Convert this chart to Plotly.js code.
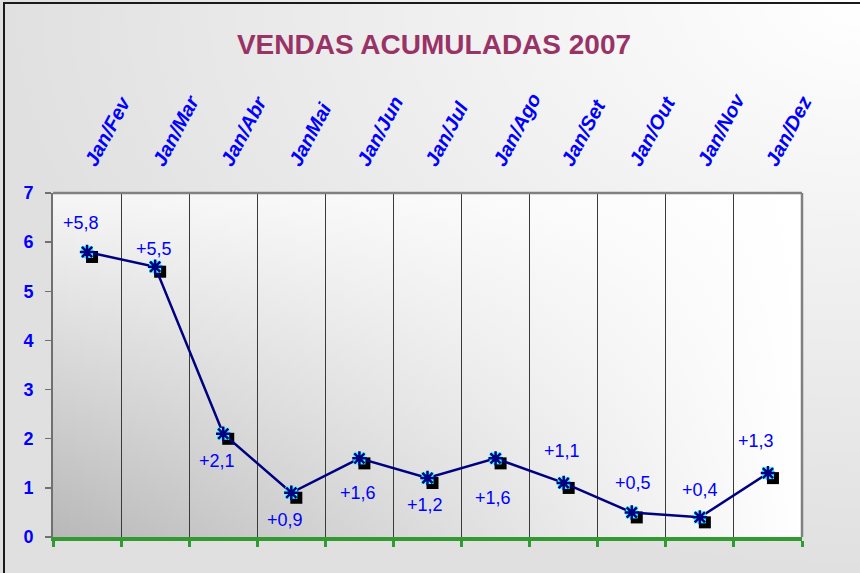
<!DOCTYPE html>
<html>
<head>
<meta charset="utf-8">
<script src="https://cdn.plot.ly/plotly-3.0.1.min.js"></script>
<style>html,body{margin:0;padding:0;background:#e0e0e0;}#chart{width:860px;height:573px;}</style>
</head>
<body>
<div id="chart"></div>
<script>
// ---- data ----
const categories = ['Jan/Fev', 'Jan/Mar', 'Jan/Abr', 'JanMai', 'Jan/Jun', 'Jan/Jul', 'Jan/Ago', 'Jan/Set', 'Jan/Out', 'Jan/Nov', 'Jan/Dez'];
const values = [5.8, 5.5, 2.1, 0.9, 1.6, 1.2, 1.6, 1.1, 0.5, 0.4, 1.3];
const valueLabels = values.map(v => '+' + v.toFixed(1).replace('.', ','));
const yTickValues = [0, 1, 2, 3, 4, 5, 6, 7];
const chartTitle = 'VENDAS ACUMULADAS 2007';

// ---- label placement (style only, pixels) ----
const labelShiftX = [-6, -1, -6, -6, -1, -3, -3, -2, 1, 0, -12];
const labelShiftY = [29, 18, -27, -27, -35, -27, -40, 32, 29, 27, 32];

// ---- geometry ----
const W = 860, H = 573;
const mL = 53, mR = 53, mT = 193, mB = 31;
const pw = W - mL - mR, ph = H - mT - mB;
const s = 5; // shadow offset px
const mainX = [0, (pw - s) / pw];
const mainY = [s / ph, 1];
const shX = [s / pw, 1];
const shY = [0, (ph - s) / ph];
const xRange = [-0.5, categories.length - 0.5];
const yRange = [0, 7];

function svgUri(svg) { return 'data:image/svg+xml;charset=utf-8,' + encodeURIComponent(svg); }
const paperSvg = "<svg xmlns='http://www.w3.org/2000/svg' width='100' height='100' viewBox='0 0 100 100' preserveAspectRatio='none'>" +
  "<defs><radialGradient id='r' cx='1' cy='0' r='1' gradientUnits='objectBoundingBox'>" +
  "<stop offset='0' stop-color='#ffffff' stop-opacity='1'/><stop offset='1' stop-color='#ffffff' stop-opacity='0'/></radialGradient></defs>" +
  "<rect width='100' height='100' fill='#e0e0e0'/><rect width='100' height='100' fill='url(#r)'/></svg>";
const plotSvg = "<svg xmlns='http://www.w3.org/2000/svg' width='100' height='100' viewBox='0 0 100 100' preserveAspectRatio='none'>" +
  "<defs><linearGradient id='v' x1='0' y1='1' x2='0' y2='0'><stop offset='0' stop-color='#b8b8b8'/><stop offset='1' stop-color='#f6f6f6'/></linearGradient>" +
  "<linearGradient id='h' x1='0' y1='0' x2='1' y2='0'><stop offset='0' stop-color='#ffffff' stop-opacity='0'/><stop offset='1' stop-color='#ffffff' stop-opacity='1'/></linearGradient></defs>" +
  "<rect width='100' height='100' fill='url(#v)'/><rect width='100' height='100' fill='url(#h)'/></svg>";

const traces = [
  { // hidden helper so bottom axis is drawn
    x: categories, y: values, xaxis: 'x2', yaxis: 'y', mode: 'none', hoverinfo: 'skip', showlegend: false
  },
  { // marker shadow (own subplot, offset down-right, drawn first)
    x: categories, y: values, xaxis: 'x3', yaxis: 'y3', mode: 'markers', hoverinfo: 'skip', showlegend: false,
    marker: { symbol: 'square', size: 12, color: '#000000', line: { width: 0 } }
  },
  { // line + cyan squares (drawn above the shadow)
    x: categories, y: values, xaxis: 'x4', yaxis: 'y4', mode: 'lines+markers', showlegend: false,
    line: { color: '#000080', width: 2.5 },
    marker: { symbol: 'square', size: 12, color: '#33ffff', line: { width: 0 } }
  },
  { // asterisk glyphs
    x: categories, y: values, xaxis: 'x4', yaxis: 'y4', mode: 'markers', showlegend: false, hoverinfo: 'skip',
    marker: { symbol: 'asterisk-open', size: 12, color: '#000080', line: { color: '#000080', width: 2.5 } }
  }
];

const annotations = categories.map((c, i) => ({
  x: c, y: values[i], xref: 'x', yref: 'y', text: valueLabels[i], showarrow: false,
  xshift: labelShiftX[i], yshift: labelShiftY[i],
  font: { family: 'Arial, Liberation Sans, sans-serif', size: 18, color: '#0000ff' }
}));

const catAxisBase = { type: 'category', categoryorder: 'array', categoryarray: categories, range: xRange };

const layout = {
  width: W, height: H,
  margin: { l: mL, r: mR, t: mT, b: mB, pad: 0 },
  paper_bgcolor: '#e0e0e0',
  plot_bgcolor: 'rgba(0,0,0,0)',
  showlegend: false,
  title: {
    text: chartTitle, xref: 'container', yref: 'container', x: 434 / W, y: 1 - 44 / H,
    xanchor: 'center', yanchor: 'middle',
    font: { family: 'Arial, Liberation Sans, sans-serif', size: 28, weight: 'bold', color: '#993366' }
  },
  xaxis: Object.assign({}, catAxisBase, {
    domain: mainX, anchor: 'y', side: 'top',
    tickson: 'boundaries', ticks: '', showline: false, zeroline: false,
    showgrid: true, gridcolor: '#3a3a3a', gridwidth: 1,
    tickangle: -62, ticklabelstandoff: 15,
    tickfont: { family: 'Arial, Liberation Sans, sans-serif', size: 20, weight: 'bold', style: 'italic', color: '#0000ff' }
  }),
  xaxis2: Object.assign({}, catAxisBase, {
    overlaying: 'x', anchor: 'y', side: 'bottom',
    tickson: 'boundaries', ticks: 'outside', ticklen: 6, tickwidth: 3, tickcolor: '#339933',
    showline: true, linecolor: '#339933', linewidth: 4, showgrid: false, zeroline: false, showticklabels: false
  }),
  yaxis: {
    range: yRange, domain: mainY, anchor: 'x', tickvals: yTickValues,
    ticks: 'outside', ticklen: 6, tickwidth: 1.5, tickcolor: '#707070',
    showline: true, linecolor: '#707070', linewidth: 2, showgrid: false, zeroline: false,
    ticklabelstandoff: 8,
    tickfont: { family: 'Arial, Liberation Sans, sans-serif', size: 18, weight: 'bold', color: '#0000ff' }
  },
  // shadow axes (offset domain)
  xaxis3: Object.assign({}, catAxisBase, { anchor: 'y3', domain: shX, visible: false, showgrid: false, fixedrange: true }),
  yaxis3: { range: yRange, anchor: 'x3', domain: shY, visible: false, showgrid: false, fixedrange: true },
  // foreground line axes (same place as main axes)
  xaxis4: Object.assign({}, catAxisBase, { anchor: 'y4', domain: mainX, visible: false, showgrid: false, fixedrange: true }),
  yaxis4: { range: yRange, anchor: 'x4', domain: mainY, visible: false, showgrid: false, fixedrange: true },
  images: [
    { source: svgUri(paperSvg), xref: 'paper', yref: 'paper', x: -mL / pw, y: 1 + mT / ph,
      sizex: W / pw, sizey: H / ph, xanchor: 'left', yanchor: 'top', sizing: 'stretch', layer: 'below' },
    { source: svgUri(plotSvg), xref: 'paper', yref: 'paper', x: mainX[0], y: 1,
      sizex: mainX[1] - mainX[0], sizey: 1 - mainY[0], xanchor: 'left', yanchor: 'top', sizing: 'stretch', layer: 'below' }
  ],
  shapes: [
    { type: 'line', xref: 'x domain', yref: 'y domain', x0: 0, x1: 1, y0: 1, y1: 1, line: { color: '#808080', width: 2.5 } },
    { type: 'line', xref: 'x domain', yref: 'y domain', x0: 1, x1: 1, y0: 0, y1: 1, line: { color: '#808080', width: 2.5 } },
    { type: 'rect', xref: 'paper', yref: 'paper', x0: (4 - mL) / pw, x1: (W + 10 - mL) / pw,
      y0: -(mB + 10) / ph, y1: 1 + (mT - 3) / ph, line: { color: '#1a1a1a', width: 2 }, fillcolor: 'rgba(0,0,0,0)' }
  ],
  annotations: annotations
};

Plotly.newPlot('chart', traces, layout, { displayModeBar: false, staticPlot: true });
</script>
</body>
</html>
